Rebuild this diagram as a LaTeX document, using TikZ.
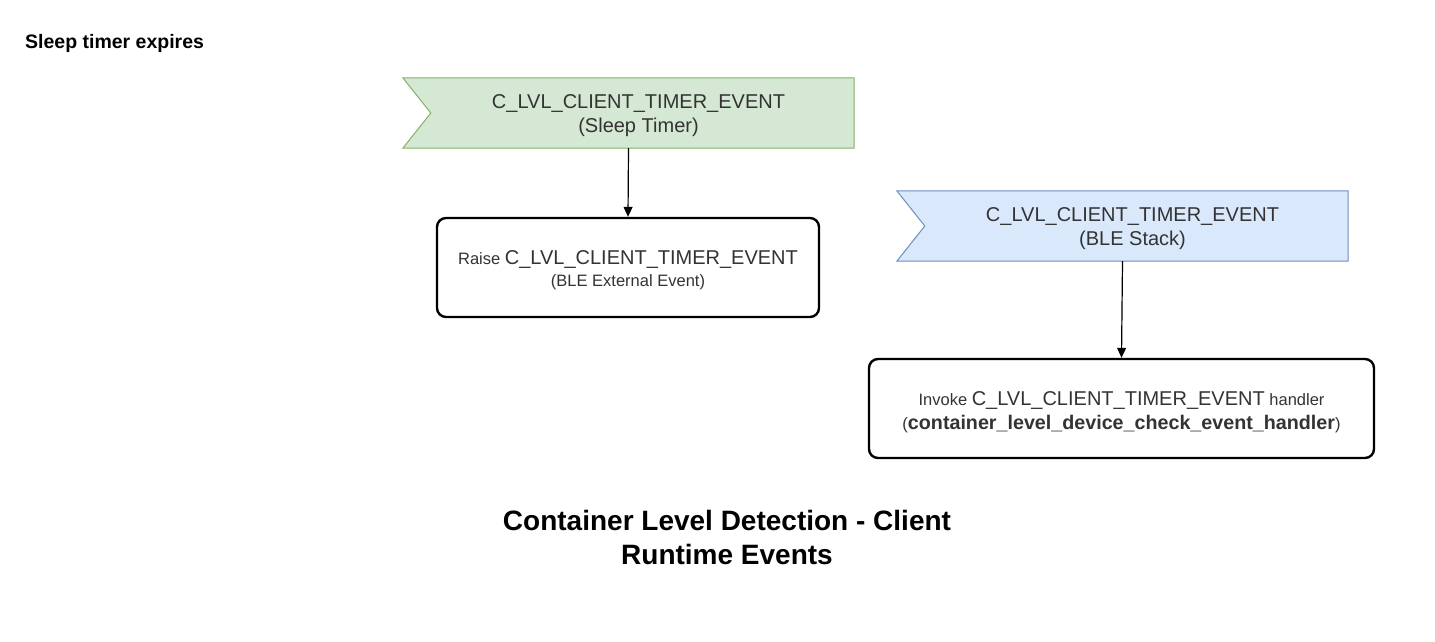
\documentclass[tikz,border=0pt]{standalone}
\usepackage{fontspec}
\setmainfont{Liberation Sans}
\usetikzlibrary{arrows.meta}
\definecolor{gfill}{HTML}{D5E8D4}
\definecolor{gline}{HTML}{82B366}
\definecolor{bfill}{HTML}{DAE8FC}
\definecolor{bline}{HTML}{6C8EBF}
\definecolor{txt}{HTML}{333333}
\tikzset{
  flagframe/.style={draw=none, minimum width=451pt, minimum height=70pt, inner sep=0pt},
  flagtext/.style={align=center, text=txt, font=\fontsize{20}{24}\selectfont, inner sep=0pt},
  procbox/.style={draw=black, line width=2.4pt, rounded corners=9pt, inner sep=0pt},
  boxtext/.style={align=center, text=txt, inner sep=0pt},
  conn/.style={line width=1.2pt, -{Triangle[length=10pt,width=9pt]}}
}
\begin{document}
\begin{tikzpicture}[x=1pt,y=-1pt]
\useasboundingbox[fill=white] (0,0) rectangle (1435,641);

\node[font=\bfseries\fontsize{19.5}{22}\selectfont, anchor=west, inner sep=0pt] (hdr) at (25,43) {Sleep timer expires};

% green flag
\node[flagframe] (f1) at (628.5,113) {};
\draw[fill=gfill, draw=gline, line width=1pt] (f1.north west) -- (f1.north east) -- (f1.south east) -- (f1.south west) -- ([xshift=28pt]f1.west) -- cycle;
\node[flagtext] (t1) at (638.5,116) {C\_LVL\_CLIENT\_TIMER\_EVENT\\(Sleep Timer)};

% box 1
\node[procbox, minimum width=382pt, minimum height=99pt] (b1) at (628,267.5) {};
\node[boxtext, font=\fontsize{16.5}{22}\selectfont] (bt1) at (628,270.5) {%
  Raise {\fontsize{20}{22}\selectfont C\_LVL\_CLIENT\_TIMER\_EVENT}\\
  (BLE External Event)};

% blue flag
\node[flagframe] (f2) at (1122.5,226) {};
\draw[fill=bfill, draw=bline, line width=1pt] (f2.north west) -- (f2.north east) -- (f2.south east) -- (f2.south west) -- ([xshift=28pt]f2.west) -- cycle;
\node[flagtext] (t2) at (1132.5,229) {C\_LVL\_CLIENT\_TIMER\_EVENT\\(BLE Stack)};

% box 2
\node[procbox, minimum width=505pt, minimum height=99pt] (b2) at (1121.5,408.5) {};
\node[boxtext, font=\fontsize{16.5}{24}\selectfont] (bt2) at (1121.5,412) {%
  Invoke {\fontsize{20}{24}\selectfont C\_LVL\_CLIENT\_TIMER\_EVENT} handler\\
  ({\fontsize{19.7}{24}\selectfont\bfseries container\_level\_device\_check\_event\_handler})};

\draw[conn] (f1.south) -- (b1.north);
\draw[conn] (f2.south) -- (b2.north);

\node[font=\bfseries\fontsize{28}{34}\selectfont, align=center, inner sep=0pt] (title) at (727,537) {Container Level Detection - Client\\Runtime Events};
\end{tikzpicture}
\end{document}
